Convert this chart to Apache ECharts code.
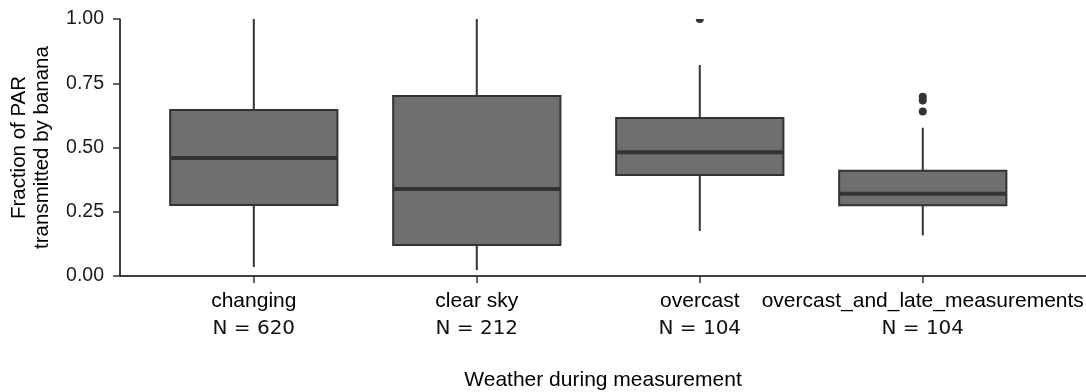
<!DOCTYPE html>
<html>
<head>
<meta charset="utf-8">
<script src="https://cdn.jsdelivr.net/npm/echarts@6/dist/echarts.min.js"></script>
<style>
  html, body { margin: 0; padding: 0; background: #fff; }
  #chart { width: 1086px; height: 392px; }
</style>
</head>
<body>
<div id="chart"></div>
<script>
// Weather categories and sample sizes
const categories = ['changing', 'clear sky', 'overcast', 'overcast_and_late_measurements'];
const counts = [620, 212, 104, 104];

// Five-number summaries: [lower whisker, Q1, median, Q3, upper whisker]
const lowerWhisker = [0.035, 0.023, 0.175, 0.158];
const q1 = [0.276, 0.121, 0.393, 0.275];
const median = [0.459, 0.339, 0.482, 0.320];
const q3 = [0.646, 0.700, 0.615, 0.410];
const upperWhisker = [1.000, 1.000, 0.821, 0.577];

// Outlying observations: category index and value
const outlierCategory = [2, 3, 3, 3];
const outlierValue = [1.000, 0.697, 0.683, 0.640];

const yTicks = [0, 0.25, 0.5, 0.75, 1.0];

const boxData = categories.map((c, i) => [i + 1, lowerWhisker[i], q1[i], median[i], q3[i], upperWhisker[i]]);
const outlierData = outlierCategory.map((c, i) => [c + 1, outlierValue[i]]);

const BOX_WIDTH = 0.75;
const EDGE = '#333333';
const FILL = '#6f6f6f';

function renderBox(params, api) {
  const x = api.value(0);
  const half = api.size([BOX_WIDTH, 0])[0] / 2;
  const pLow = api.coord([x, api.value(1)]);
  const pQ1 = api.coord([x, api.value(2)]);
  const pMed = api.coord([x, api.value(3)]);
  const pQ3 = api.coord([x, api.value(4)]);
  const pHigh = api.coord([x, api.value(5)]);
  const cx = pMed[0];
  return {
    type: 'group',
    children: [
      { type: 'line', shape: { x1: cx, y1: pQ3[1], x2: cx, y2: pHigh[1] },
        style: { stroke: EDGE, lineWidth: 2 } },
      { type: 'line', shape: { x1: cx, y1: pQ1[1], x2: cx, y2: pLow[1] },
        style: { stroke: EDGE, lineWidth: 2 } },
      { type: 'rect', shape: { x: cx - half, y: pQ3[1], width: half * 2, height: pQ1[1] - pQ3[1] },
        style: { fill: FILL, stroke: EDGE, lineWidth: 2 } },
      { type: 'line', shape: { x1: cx - half, y1: pMed[1], x2: cx + half, y2: pMed[1] },
        style: { stroke: EDGE, lineWidth: 4 } }
    ]
  };
}

function renderOutlier(params, api) {
  const p = api.coord([api.value(0), api.value(1)]);
  return { type: 'circle', shape: { cx: p[0], cy: p[1], r: 4 }, style: { fill: EDGE } };
}

const chart = echarts.init(document.getElementById('chart'), null, { renderer: 'canvas' });
chart.setOption({
  animation: false,
  backgroundColor: '#ffffff',
  grid: { left: 120, right: 0, top: 19, bottom: 116, containLabel: false, outerBoundsMode: 'none' },
  xAxis: {
    type: 'value',
    min: 0.4,
    max: 4.732,
    name: 'Weather during measurement',
    nameLocation: 'middle',
    nameGap: 94,
    nameTextStyle: { fontFamily: 'Liberation Sans', fontSize: 21, color: '#000' },
    axisLine: { show: true, onZero: false, lineStyle: { color: '#000', width: 1.5 } },
    axisTick: { show: true, customValues: [1, 2, 3, 4], length: 7, lineStyle: { color: '#333', width: 1.5 } },
    axisLabel: {
      customValues: [1, 2, 3, 4],
      margin: 12,
      formatter: v => '{a|' + categories[v - 1] + '}\n{b|N = ' + counts[v - 1] + '}',
      rich: {
        a: { fontFamily: 'Liberation Sans', fontSize: 21, color: '#000', lineHeight: 27 },
        b: { fontFamily: 'DejaVu Sans', fontSize: 20, color: '#111', lineHeight: 27 }
      }
    },
    splitLine: { show: false }
  },
  yAxis: {
    type: 'value',
    min: 0,
    max: 1,
    interval: 0.25,
    name: 'Fraction of PAR\ntransmitted by banana',
    nameLocation: 'middle',
    nameGap: 66,
    nameTextStyle: { fontFamily: 'Liberation Sans', fontSize: 20.5, color: '#000', lineHeight: 23 },
    axisLine: { show: true, lineStyle: { color: '#000', width: 1.5 } },
    axisTick: { show: true, length: 7, lineStyle: { color: '#333', width: 1.5 } },
    axisLabel: {
      margin: 16,
      fontFamily: 'Liberation Sans', fontSize: 19.5, color: '#1a1a1a',
      formatter: v => yTicks.includes(v) ? v.toFixed(2) : ''
    },
    splitLine: { show: false }
  },
  series: [
    { type: 'custom', name: 'boxes', renderItem: renderBox, data: boxData, clip: true,
      encode: { x: 0, y: [1, 2, 3, 4, 5] } },
    { type: 'custom', name: 'outliers', renderItem: renderOutlier, data: outlierData, clip: true,
      encode: { x: 0, y: 1 }, z: 3 }
  ]
});
</script>
</body>
</html>
